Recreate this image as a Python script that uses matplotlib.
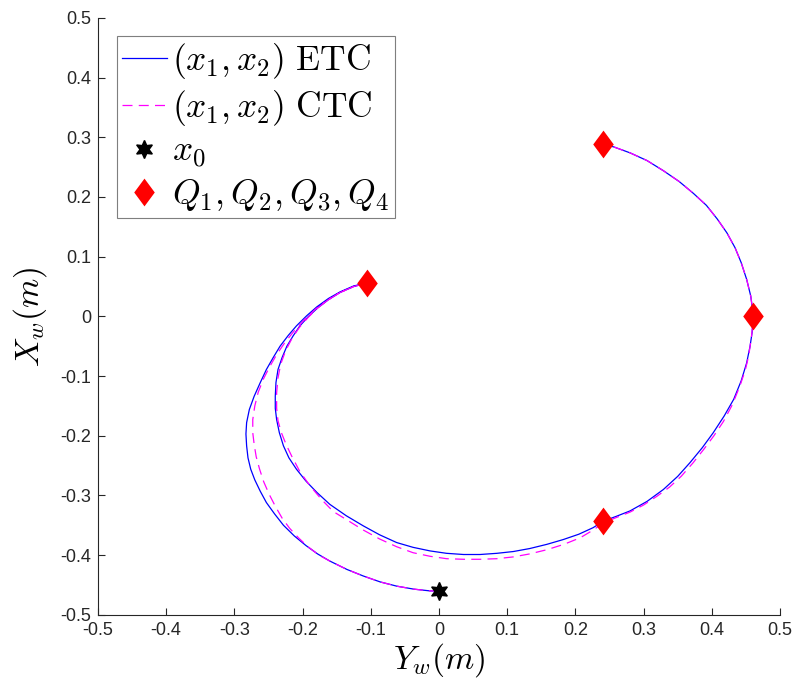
import numpy as np
import matplotlib
matplotlib.use("Agg")
import matplotlib.pyplot as plt
from matplotlib.path import Path

plt.rcParams['font.family'] = ['Liberation Sans', 'DejaVu Sans']
plt.rcParams['mathtext.fontset'] = 'cm'
plt.rcParams['axes.unicode_minus'] = False

# trayectoria ETC: Y_w (eje horizontal), X_w (eje vertical)
etc_yw = [0.000, -0.013, -0.037, -0.062, -0.086, -0.111, -0.135, -0.160, -0.178, -0.195,
          -0.212, -0.228, -0.241, -0.253, -0.262, -0.270, -0.276, -0.280, -0.282, -0.283,
          -0.282, -0.278, -0.271, -0.262, -0.253, -0.243, -0.233, -0.221, -0.209, -0.194,
          -0.179, -0.162, -0.145, -0.125, -0.105,
          -0.125, -0.145, -0.162, -0.178, -0.192, -0.204, -0.214, -0.223, -0.230, -0.236,
          -0.239, -0.240, -0.240, -0.238, -0.234, -0.228, -0.220, -0.209, -0.195, -0.179,
          -0.160, -0.136, -0.111, -0.087, -0.062, -0.038, -0.013, 0.011, 0.036, 0.060,
          0.085, 0.109, 0.133, 0.158, 0.182, 0.205, 0.226, 0.241, 0.260, 0.280,
          0.305, 0.329, 0.350, 0.368, 0.386, 0.402, 0.418, 0.432, 0.443, 0.451,
          0.456, 0.459, 0.461, 0.457, 0.451, 0.443, 0.434, 0.422, 0.408, 0.392,
          0.373, 0.352, 0.329, 0.305, 0.280, 0.256, 0.241]
etc_xw = [-0.460, -0.460, -0.457, -0.452, -0.445, -0.435, -0.424, -0.410, -0.398, -0.384,
          -0.368, -0.350, -0.331, -0.312, -0.293, -0.274, -0.256, -0.237, -0.217, -0.197,
          -0.178, -0.156, -0.134, -0.111, -0.089, -0.069, -0.050, -0.032, -0.016, 0.001,
          0.016, 0.030, 0.041, 0.051, 0.056,
          0.050, 0.040, 0.028, 0.014, -0.001, -0.016, -0.033, -0.050, -0.069, -0.089,
          -0.111, -0.134, -0.154, -0.173, -0.195, -0.217, -0.237, -0.256, -0.276, -0.295,
          -0.315, -0.334, -0.351, -0.366, -0.379, -0.387, -0.393, -0.397, -0.399, -0.399,
          -0.397, -0.394, -0.389, -0.382, -0.374, -0.365, -0.354, -0.343, -0.335, -0.326,
          -0.310, -0.290, -0.268, -0.245, -0.220, -0.195, -0.167, -0.139, -0.108, -0.078,
          -0.050, -0.027, 0.000, 0.034, 0.062, 0.090, 0.115, 0.140, 0.163, 0.186,
          0.206, 0.226, 0.244, 0.261, 0.274, 0.284, 0.288]

# trayectoria CTC
ctc_yw = [0.000, -0.013, -0.037, -0.062, -0.086, -0.111, -0.135, -0.160, -0.176, -0.192,
          -0.206, -0.219, -0.230, -0.240, -0.249, -0.257, -0.263, -0.268, -0.271, -0.273,
          -0.273, -0.270, -0.265, -0.257, -0.248, -0.238, -0.226, -0.212, -0.196, -0.180,
          -0.162, -0.145, -0.125, -0.105,
          -0.125, -0.145, -0.162, -0.178, -0.192, -0.205, -0.216, -0.225, -0.232, -0.236,
          -0.238, -0.238, -0.236, -0.231, -0.224, -0.216, -0.204, -0.189, -0.172, -0.155,
          -0.135, -0.111, -0.087, -0.062, -0.038, -0.013, 0.011, 0.036, 0.060, 0.085,
          0.109, 0.133, 0.158, 0.183, 0.207, 0.226, 0.241, 0.260, 0.280, 0.300,
          0.320, 0.338, 0.355, 0.372, 0.388, 0.403, 0.417, 0.430, 0.441, 0.449,
          0.454, 0.458, 0.461, 0.457, 0.451, 0.443, 0.434, 0.422, 0.408, 0.392,
          0.373, 0.352, 0.329, 0.305, 0.280, 0.256, 0.241]
ctc_xw = [-0.460, -0.460, -0.457, -0.452, -0.445, -0.435, -0.424, -0.410, -0.400, -0.386,
          -0.371, -0.355, -0.338, -0.318, -0.298, -0.277, -0.256, -0.235, -0.214, -0.195,
          -0.173, -0.150, -0.127, -0.104, -0.084, -0.064, -0.044, -0.024, -0.004, 0.013,
          0.028, 0.040, 0.050, 0.056,
          0.050, 0.040, 0.028, 0.014, -0.002, -0.019, -0.038, -0.058, -0.080, -0.103,
          -0.128, -0.154, -0.175, -0.195, -0.215, -0.234, -0.260, -0.284, -0.307, -0.327,
          -0.341, -0.358, -0.373, -0.386, -0.396, -0.402, -0.406, -0.407, -0.407, -0.406,
          -0.403, -0.398, -0.391, -0.382, -0.371, -0.358, -0.346, -0.337, -0.328, -0.316,
          -0.301, -0.286, -0.268, -0.246, -0.223, -0.200, -0.176, -0.148, -0.117, -0.090,
          -0.066, -0.035, 0.000, 0.034, 0.062, 0.090, 0.115, 0.140, 0.163, 0.186,
          0.206, 0.226, 0.244, 0.261, 0.274, 0.284, 0.288]

x0_yw, x0_xw = [0.0], [-0.460]
q_yw = [0.241, 0.461, 0.241, -0.105]
q_xw = [0.288, 0.000, -0.343, 0.056]

ticks = [-0.5, -0.4, -0.3, -0.2, -0.1, 0, 0.1, 0.2, 0.3, 0.4, 0.5]
tick_labels = ['-0.5', '-0.4', '-0.3', '-0.2', '-0.1', '0', '0.1', '0.2', '0.3', '0.4', '0.5']

# diamante tipo MATLAB (mas alto que ancho)
diamond = Path([(0, 1), (0.74, 0), (0, -1), (-0.74, 0), (0, 1)],
               [Path.MOVETO, Path.LINETO, Path.LINETO, Path.LINETO, Path.CLOSEPOLY])

fig = plt.figure(figsize=(7.96, 6.90), dpi=100)
ax = fig.add_axes([0.123, 0.109, 0.857, 0.865])

ax.plot(etc_yw, etc_xw, '-', color='#0000ff', linewidth=0.9, label=r'$(x_1,x_2)\ \mathrm{ETC}$')
ax.plot(ctc_yw, ctc_xw, '--', color='#ff00ff', linewidth=0.9, dashes=(8, 5),
        label=r'$(x_1,x_2)\ \mathrm{CTC}$')
ax.plot(x0_yw, x0_xw, linestyle='none', marker=(6, 1, 0), markersize=13, color='k',
        label=r'$x_0$')
ax.plot(q_yw, q_xw, linestyle='none', marker=diamond, markersize=20, color='#ff0000',
        markeredgewidth=0, label=r'$Q_1,Q_2,Q_3,Q_4$')

ax.set_xlim(-0.5, 0.5)
ax.set_ylim(-0.5, 0.5)
ax.set_xticks(ticks)
ax.set_xticklabels(tick_labels)
ax.set_yticks(ticks)
ax.set_yticklabels(tick_labels)

gray = '#262626'
for s in ['top', 'right']:
    ax.spines[s].set_visible(False)
for s in ['left', 'bottom']:
    ax.spines[s].set_color(gray)
    ax.spines[s].set_linewidth(0.8)
ax.tick_params(direction='in', length=5, width=0.8, color=gray, labelcolor=gray,
               labelsize=13, pad=5)

ax.set_xlabel(r'$Y_w(m)$', fontsize=24, labelpad=2)
ax.set_ylabel(r'$X_w(m)$', fontsize=24, labelpad=8)

leg = ax.legend(loc='upper left', bbox_to_anchor=(0.028, 0.970), borderaxespad=0,
                fontsize=25.5, handlelength=1.25, handletextpad=0.15, labelspacing=0.2,
                borderpad=0.15, fancybox=False, framealpha=1, edgecolor='#7f7f7f')
leg.get_frame().set_linewidth(0.8)

plt.savefig('out.png', dpi=100)
